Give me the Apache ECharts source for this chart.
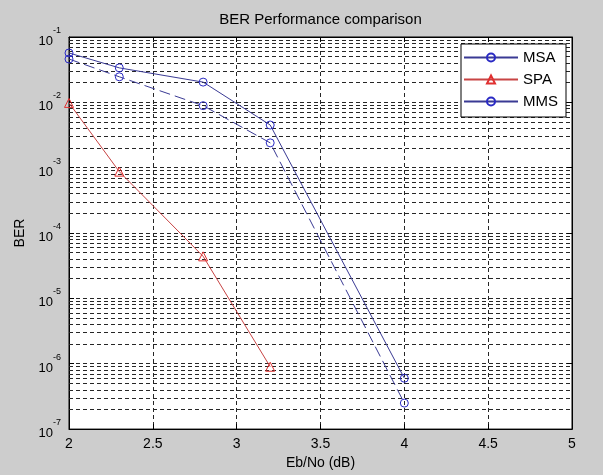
<!DOCTYPE html>
<html>
<head>
<meta charset="utf-8">
<script src="https://cdn.jsdelivr.net/npm/echarts@6/dist/echarts.min.js"></script>
<style>
  html, body { margin: 0; padding: 0; background: #cdcdcd; }
  #chart { width: 603px; height: 475px; }
</style>
</head>
<body>
<div id="chart"></div>
<script>
// values
const ebno = [2, 2.3, 2.8, 3.2, 4];
const msa = [0.057, 0.0337, 0.0204, 0.0045, 6e-7];
const mms = [0.046, 0.0246, 0.0089, 0.0024, 2.5e-7];
const spaX = [2, 2.3, 2.8, 3.2];
const spa = [0.0098, 0.00087, 4.4e-5, 9e-7];
const seriesNames = ['MSA', 'SPA', 'MMS'];
const xTicks = [2, 2.5, 3, 3.5, 4, 4.5, 5];
const yDecades = [-7, -6, -5, -4, -3, -2, -1];

const FONT = 'Liberation Sans, Arial, sans-serif';
const BLUE_LINE = '#3a3a94';
const BLUE_MARK = '#2a2ac4';
const RED_LINE = '#c84444';
const RED_MARK = '#e03030';

function pairs(xs, ys) {
  return xs.map((x, i) => [x, ys[i]]);
}

// minor log grid lines (2..9 x 10^k)
const minorLines = [];
for (let k = 0; k < yDecades.length - 1; k++) {
  for (let m = 2; m <= 9; m++) {
    minorLines.push({ yAxis: m * Math.pow(10, yDecades[k]) });
  }
}

const chart = echarts.init(document.getElementById('chart'));

const gridDash = { color: '#262626', width: 1, type: [4, 3] };

chart.setOption({
  backgroundColor: '#cdcdcd',
  animation: false,
  textStyle: { fontFamily: FONT },
  grid: {
    left: 69, right: 31, top: 37, bottom: 41,
    show: true, backgroundColor: '#ffffff', borderColor: '#000', borderWidth: 1
  },
  legend: {
    orient: 'vertical',
    right: 37, top: 44, z: 20,
    backgroundColor: '#ffffff',
    borderColor: '#000', borderWidth: 1,
    padding: [6, 8, 8, 2],
    itemWidth: 54, itemHeight: 10, itemGap: 7,
    textStyle: { fontSize: 15, color: '#000', fontFamily: FONT },
    data: [
      { name: 'MSA' },
      { name: 'SPA' },
      { name: 'MMS', lineStyle: { type: 'solid' } }
    ]
  },
  xAxis: [{
    type: 'value', min: xTicks[0], max: xTicks[xTicks.length - 1], interval: 0.5,
    name: 'Eb/No (dB)', nameLocation: 'middle', nameGap: 25,
    nameTextStyle: { fontSize: 14, color: '#000', fontFamily: FONT },
    axisLine: { lineStyle: { color: '#000' } },
    axisTick: { inside: true, length: 5, lineStyle: { color: '#000' } },
    axisLabel: { color: '#000', fontSize: 14, margin: 8, fontFamily: FONT },
    splitLine: { show: true, lineStyle: gridDash }
  }, {
    type: 'value', position: 'top', min: xTicks[0], max: xTicks[xTicks.length - 1], interval: 0.5,
    name: 'BER Performance comparison', nameLocation: 'middle', nameGap: 10,
    nameTextStyle: { fontSize: 15, color: '#000', fontFamily: FONT },
    axisLine: { lineStyle: { color: '#000' } },
    axisTick: { inside: true, length: 5, lineStyle: { color: '#000' } },
    axisLabel: { show: false },
    splitLine: { show: false }
  }],
  yAxis: [{
    type: 'log', logBase: 10,
    min: Math.pow(10, yDecades[0]), max: Math.pow(10, yDecades[yDecades.length - 1]),
    name: 'BER', nameLocation: 'middle', nameGap: 42,
    nameTextStyle: { fontSize: 14, color: '#000', fontFamily: FONT },
    axisLine: { show: true, lineStyle: { color: '#000' } },
    axisTick: { inside: true, length: 5, lineStyle: { color: '#000' } },
    axisLabel: {
      margin: 8,
      formatter: function (v) {
        return '{b|10}{s|' + Math.round(Math.log10(v)) + '}';
      },
      rich: {
        b: { fontSize: 13, color: '#000', fontFamily: FONT, lineHeight: 22, verticalAlign: 'bottom' },
        s: { fontSize: 9, color: '#000', fontFamily: FONT, lineHeight: 22, verticalAlign: 'top' }
      }
    },
    splitLine: { show: true, lineStyle: gridDash }
  }, {
    type: 'log', logBase: 10, position: 'right',
    min: Math.pow(10, yDecades[0]), max: Math.pow(10, yDecades[yDecades.length - 1]),
    axisLine: { show: true, lineStyle: { color: '#000' } },
    axisTick: { inside: true, length: 5, lineStyle: { color: '#000' } },
    axisLabel: { show: false },
    splitLine: { show: false }
  }],
  series: [{
    name: '_grid', type: 'line', data: [], z: 1, silent: true,
    markLine: {
      z: 1,
      silent: true, symbol: 'none', animation: false,
      precision: 12,
      label: { show: false },
      lineStyle: gridDash,
      emphasis: { disabled: true },
      data: minorLines
    }
  }, {
    name: seriesNames[0], type: 'line', z: 3,
    data: pairs(ebno, msa),
    symbol: 'circle', symbolSize: 8,
    lineStyle: { color: BLUE_LINE, width: 1 },
    itemStyle: { color: 'rgba(0,0,0,0)', borderColor: BLUE_MARK, borderWidth: 1 }
  }, {
    name: seriesNames[1], type: 'line', z: 3,
    data: pairs(spaX, spa),
    symbol: 'triangle', symbolSize: 9,
    lineStyle: { color: RED_LINE, width: 1 },
    itemStyle: { color: 'rgba(0,0,0,0)', borderColor: RED_MARK, borderWidth: 1 }
  }, {
    name: seriesNames[2], type: 'line', z: 3,
    data: pairs(ebno, mms),
    symbol: 'circle', symbolSize: 8,
    lineStyle: { color: BLUE_LINE, width: 1, type: [11, 5] },
    itemStyle: { color: 'rgba(0,0,0,0)', borderColor: BLUE_MARK, borderWidth: 1 }
  }]
});
</script>
</body>
</html>
